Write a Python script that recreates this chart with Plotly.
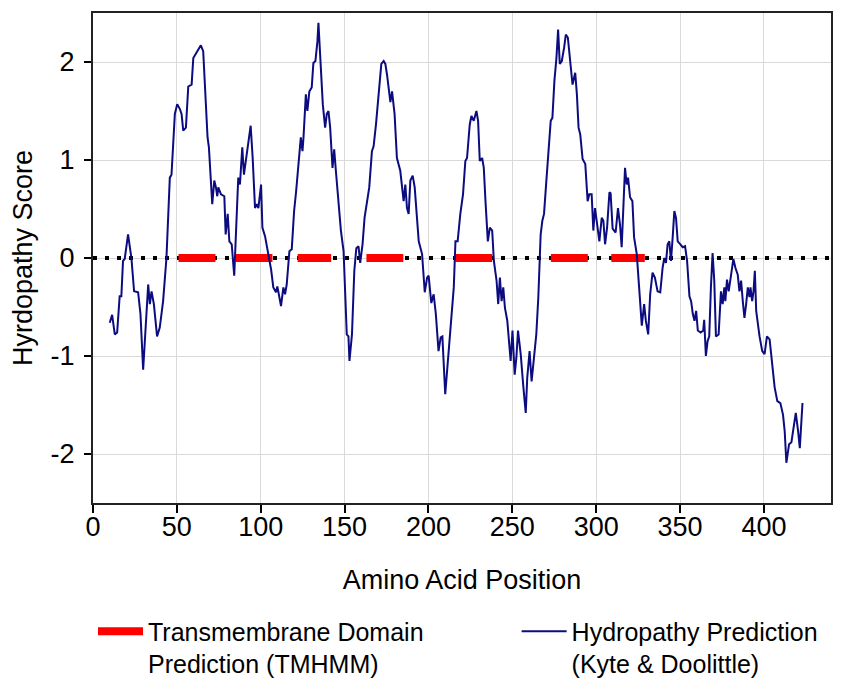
import plotly.graph_objects as go

# Kyte & Doolittle hydropathy profile
position = [10, 11.4, 13, 14.4, 15.9, 16.9, 17.9, 18.9, 20.9, 22.9, 24.5, 26.9, 28.3, 29.9, 32.9, 33.9,
            34.9, 36.3, 38.2, 39.8, 41.8, 43.8, 45.8, 46.8, 48.8, 50.2, 51.8, 52.8, 53.8, 55.4, 56.8, 58.8,
            59.8, 61.1, 62.7, 64.3, 65.7, 67.1, 68.3, 69.1, 70.3, 71.1, 72.3, 73.3, 74.1, 74.7, 76.3, 78.3,
            79.1, 80.3, 81.3, 82.7, 84.2, 85.0, 86.6, 87.6, 89.0, 90.0, 91.6, 92.6, 94.0, 95.2, 96.6, 97.6,
            98.6, 100.2, 101.0, 102.6, 104.6, 106.2, 107.5, 109.1, 109.9, 110.9, 112.1, 113.5, 114.5, 115.5,
            117.1, 118.5, 119.9, 121.1, 122.5, 123.9, 124.9, 125.5, 126.9, 127.8, 129.0, 130.4, 131.4, 132.6,
            133.8, 134.4, 135.4, 137.0, 138.4, 139.4, 140.4, 141.4, 142.8, 143.8, 144.8, 146.4, 147.8, 149.4,
            151.3, 152.3, 152.9, 154.4, 155.8, 157.0, 158.3, 159.3, 160.7, 161.9, 163.3, 164.7, 166.3, 167.3,
            168.7, 170.3, 171.9, 173.3, 174.3, 175.3, 176.3, 177.3, 178.3, 179.8, 181.2, 183.2, 185.2, 186.2,
            187.2, 188.2, 189.2, 190.6, 191.8, 192.8, 194.2, 196.2, 197.8, 199.2, 200.1, 201.7, 203.1, 204.4,
            206.0, 207.3, 208.3, 210.0, 212.1, 213.5, 215.1, 216.1, 217.4, 219.0, 220.6, 222.0, 223.0, 224.6,
            225.6, 227.0, 228.6, 229.6, 230.6, 232.0, 233.0, 234.0, 235.4, 236.6, 238.0, 239.0, 240.6, 241.6,
            242.6, 243.6, 244.6, 245.6, 247.0, 249.0, 250.1, 251.4, 252.4, 253.4, 255.0, 256.6, 258.0, 258.9,
            260.3, 261.5, 262.9, 264.3, 265.5, 266.9, 267.9, 268.9, 270.3, 271.5, 272.9, 273.9, 275.1, 276.3,
            277.3, 278.3, 279.5, 280.9, 281.9, 283.1, 284.3, 285.9, 287.5, 288.5, 289.5, 290.5, 291.9, 293.5,
            294.9, 295.9, 297.3, 298.3, 299.3, 300.3, 301.9, 303.3, 304.3, 305.3, 306.5, 307.9, 308.6, 309.8,
            311.6, 313.0, 314.2, 315.2, 316.2, 317.2, 318.2, 319.0, 320.2, 321.6, 322.6, 324.2, 325.6, 327.2,
            328.6, 329.6, 331.0, 332.2, 333.6, 335.0, 336.6, 338.2, 339.6, 340.6, 341.6, 342.6, 343.6, 344.6,
            345.6, 346.6, 347.6, 348.6, 350.2, 351.6, 353.0, 354.2, 355.6, 356.6, 357.6, 358.6, 359.6, 360.6,
            362.3, 363.8, 364.4, 365.4, 366.4, 367.4, 368.4, 369.4, 370.4, 371.4, 373.0, 374.4, 375.4, 376.4,
            377.0, 378.0, 379.0, 380.0, 381.8, 383.0, 384.4, 385.4, 386.4, 387.4, 388.4, 389.4, 390.4, 391.4,
            392.0, 393.0, 393.8, 394.6, 395.4, 397.4, 399.0, 400.4, 401.8, 403.4, 405.0, 406.4, 408.0, 409.8,
            411.4, 412.4, 413.4, 415.0, 416.4, 418.0, 419.0, 420.4, 421.4, 423.0]
hydropathy = [-0.66, -0.58, -0.78, -0.76, -0.39, -0.39, -0.03, -0.01, 0.24, 0.0, -0.34, -0.35, -0.57, -1.14, -0.27, -0.47,
              -0.34, -0.47, -0.80, -0.71, -0.44, 0.0, 0.82, 0.85, 1.47, 1.57, 1.52, 1.47, 1.30, 1.33, 1.75, 1.77,
              2.04, 2.08, 2.13, 2.17, 2.11, 1.70, 1.23, 1.13, 0.79, 0.55, 0.79, 0.72, 0.63, 0.72, 0.65, 0.63,
              0.24, 0.45, 0.17, 0.14, -0.18, 0.11, 0.82, 0.75, 1.13, 0.85, 1.06, 1.19, 1.35, 1.02, 0.51, 0.55,
              0.51, 0.75, 0.31, 0.22, 0.04, -0.12, -0.30, -0.35, -0.29, -0.39, -0.49, -0.30, -0.37, -0.27,
              0.07, 0.09, 0.48, 0.68, 0.99, 1.23, 1.09, 1.23, 1.67, 1.50, 1.70, 1.74, 1.99, 2.01,
              2.21, 2.40, 2.08, 1.57, 1.33, 1.47, 1.50, 1.33, 0.92, 1.11, 0.89, 0.51, 0.28, 0.07,
              -0.78, -0.80, -1.05, -0.78, -0.13, 0.10, 0.12, -0.05, 0.14, 0.41, 0.55, 0.72, 1.09, 1.14,
              1.36, 1.70, 1.98, 2.01, 1.98, 1.87, 1.70, 1.59, 1.70, 1.47, 1.02, 0.89, 0.58, 0.75,
              0.51, 0.45, 0.79, 0.84, 0.72, 0.45, 0.17, 0.04, -0.35, -0.20, -0.18, -0.46, -0.37, -0.57,
              -0.95, -0.81, -0.80, -1.39, -0.95, -0.57, -0.30, 0.17, 0.17, 0.45, 0.65, 0.99, 1.02, 1.36,
              1.45, 1.40, 1.50, 1.40, 0.99, 1.02, 0.92, 0.58, 0.17, 0.31, 0.28, -0.03, -0.23, -0.47,
              -0.20, -0.44, -0.30, -0.51, -0.64, -1.05, -0.74, -1.19, -1.02, -0.74, -0.98, -1.32, -1.58, -1.22,
              -0.95, -1.26, -0.98, -0.78, -0.40, 0.24, 0.38, 0.45, 0.79, 1.04, 1.40, 1.43, 1.81, 2.04,
              2.33, 1.98, 2.01, 2.15, 2.28, 2.25, 2.01, 1.77, 1.89, 1.67, 1.33, 1.26, 1.01, 0.96,
              0.58, 0.65, 0.65, 0.28, 0.51, 0.38, 0.17, 0.41, 0.38, 0.14, 0.31, 0.67, 0.66, 0.30,
              0.26, 0.51, 0.34, 0.11, 0.48, 0.92, 0.75, 0.82, 0.62, 0.58, 0.21, 0.04, -0.30, -0.69,
              -0.47, -0.64, -0.78, -0.37, -0.15, -0.20, -0.34, -0.35, -0.10, 0.0, -0.05, 0.14, 0.17, -0.03,
              0.21, 0.48, 0.41, 0.17, 0.14, 0.11, 0.12, -0.03, -0.39, -0.44, -0.57, -0.64, -0.54, -0.74,
              -0.76, -0.74, -0.63, -1.0, -0.85, -0.80, -0.30, 0.05, -0.23, -0.80, -0.78, -0.34, -0.47, -0.30,
              -0.44, -0.22, -0.34, -0.20, -0.01, -0.10, -0.17, -0.34, -0.23, -0.44, -0.61, -0.47, -0.30, -0.40,
              -0.30, -0.44, -0.34, -0.13, -0.54, -0.80, -0.95, -0.98, -0.80, -0.83, -1.09, -1.32, -1.46, -1.48,
              -1.60, -1.77, -2.09, -1.90, -1.88, -1.70, -1.58, -1.77, -1.94, -1.48]

# TMHMM transmembrane segments
tm_start = [51, 85, 122, 163, 216, 273, 309]
tm_end = [73, 107, 142, 185, 238, 295, 329]

x_ticks = [0, 50, 100, 150, 200, 250, 300, 350, 400]
y_ticks = [-2, -1, 0, 1, 2]
y_tick_labels = ["-2", "-1", "0", "1", "2"]

FONT = "Liberation Sans, Arial, sans-serif"
FS = 27
LEG_FS = 25

tm_x, tm_y = [], []
for s, e in zip(tm_start, tm_end):
    tm_x += [s, e, None]
    tm_y += [0, 0, None]

fig = go.Figure()
fig.add_trace(go.Scatter(x=[0, 440], y=[0, 0], mode="lines", showlegend=False, hoverinfo="skip",
                         line=dict(color="black", width=4, dash="4px,8px")))
fig.add_trace(go.Scatter(x=tm_x, y=tm_y, mode="lines", name="Transmembrane Domain<br>Prediction (TMHMM)",
                         line=dict(color="#ff0000", width=8), legend="legend"))
fig.add_trace(go.Scatter(x=position, y=hydropathy, mode="lines",
                         name="Hydropathy Prediction<br>(Kyte & Doolittle)",
                         line=dict(color="#0c0c80", width=2), legend="legend2"))

legend_common = dict(orientation="v", xanchor="left", yanchor="top", valign="top", itemwidth=45,
                     font=dict(family=FONT, size=LEG_FS, color="black"), bgcolor="rgba(0,0,0,0)")

fig.update_layout(
    width=849, height=681,
    margin=dict(l=93, r=18, t=13, b=178, autoexpand=False),
    paper_bgcolor="white", plot_bgcolor="white",
    font=dict(family=FONT, size=FS, color="black"),
    showlegend=True,
    legend=dict(x=0.0, y=-0.2153, **legend_common),
    legend2=dict(x=0.574, y=-0.2153, **legend_common),
    xaxis=dict(range=[0, 440], tickvals=x_ticks, ticks="outside", ticklen=8, tickwidth=2,
               tickcolor="black", showline=True, linecolor="#222", linewidth=2, mirror=True,
               showgrid=True, gridcolor="#d9d9d9", gridwidth=1, zeroline=False,
               tickfont=dict(size=FS), ticklabelstandoff=-9,
               title=dict(text="Amino Acid Position", font=dict(size=FS), standoff=29)),
    yaxis=dict(range=[-2.5, 2.5], tickvals=y_ticks, ticktext=y_tick_labels, ticks="outside",
               ticklen=7, tickwidth=2, tickcolor="black", showline=True, linecolor="#222",
               linewidth=2, mirror=True, showgrid=True, gridcolor="#d9d9d9", gridwidth=1,
               zeroline=False, tickfont=dict(size=FS), ticklabelstandoff=4,
               title=dict(text="Hyrdopathy Score", font=dict(size=FS), standoff=10)),
)

fig.write_html("out.html")
